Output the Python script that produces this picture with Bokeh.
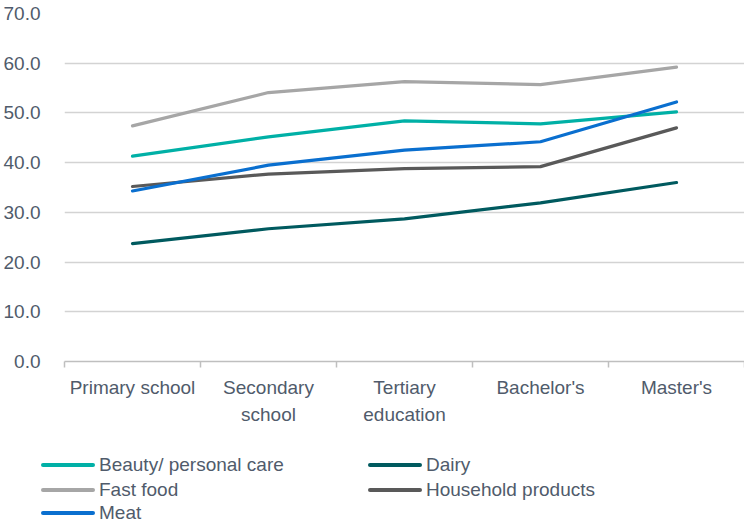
from bokeh.plotting import figure
from bokeh.layouts import column
from bokeh.models import (Range1d, FixedTicker, PrintfTickFormatter, ColumnDataSource, Div)
from bokeh.embed import file_html
from bokeh.resources import INLINE

categories = ["Primary school", "Secondary\nschool", "Tertiary\neducation", "Bachelor's", "Master's"]
beauty = [41.3, 45.2, 48.4, 47.8, 50.2]
dairy = [23.7, 26.7, 28.7, 31.9, 36.0]
fast_food = [47.4, 54.1, 56.3, 55.7, 59.2]
household = [35.2, 37.7, 38.8, 39.2, 47.0]
meat = [34.3, 39.5, 42.5, 44.2, 52.2]
y_ticks = [0, 10, 20, 30, 40, 50, 60, 70]

series = [
    ("Beauty/ personal care", beauty, "#00B0A6"),
    ("Dairy", dairy, "#005A5F"),
    ("Fast food", fast_food, "#A6A6A6"),
    ("Household products", household, "#595959"),
    ("Meat", meat, "#0A6FCF"),
]
# legend layout: column-major, 3 rows
legend_order = ["Beauty/ personal care", "Fast food", "Meat", "Dairy", "Household products"]

FONT = "Liberation Sans"
TXT = "#505B6B"
W = 744
H_MAIN = 440
H_LEG = 82

x_pos = [i + 0.5 for i in range(len(categories))]

p = figure(width=W, height=H_MAIN, output_backend="svg", toolbar_location=None,
           x_range=Range1d(0, len(categories)), y_range=Range1d(0, 70),
           min_border_left=63, min_border_right=0, min_border_top=13,
           min_border_bottom=H_MAIN - 361)
p.outline_line_color = None
p.background_fill_color = "white"
p.border_fill_color = "white"

for name, vals, color in series:
    src = ColumnDataSource(dict(x=x_pos, y=vals))
    p.line("x", "y", source=src, line_color=color, line_width=3.2, line_cap="round",
           line_join="round")

# axes
xa = p.xaxis[0]
xa.ticker = FixedTicker(ticks=x_pos, minor_ticks=list(range(len(categories) + 1)))
xa.major_label_overrides = {x: c for x, c in zip(x_pos, categories)}
xa.major_tick_line_color = None
xa.major_tick_out = 0
xa.major_tick_in = 0
xa.minor_tick_line_color = "#BFBFBF"
xa.minor_tick_line_width = 1.5
xa.minor_tick_out = 6
xa.minor_tick_in = 0
xa.axis_line_color = "#BFBFBF"
xa.axis_line_width = 1.5
xa.major_label_text_font = FONT
xa.major_label_text_font_size = "19px"
xa.major_label_text_color = TXT
xa.major_label_text_line_height = 1.3
xa.major_label_standoff = 9

ya = p.yaxis[0]
ya.ticker = FixedTicker(ticks=y_ticks)
ya.formatter = PrintfTickFormatter(format="%.1f")
ya.axis_line_color = None
ya.major_tick_line_color = None
ya.minor_tick_line_color = None
ya.major_label_text_font = FONT
ya.major_label_text_font_size = "19px"
ya.major_label_text_color = TXT
ya.major_label_standoff = 18

p.xgrid.grid_line_color = None
p.ygrid.grid_line_color = "#D3D3D3"
p.ygrid.grid_line_width = 1.5
p.ygrid.ticker = FixedTicker(ticks=y_ticks)

# HTML legend below the chart (real text), built from the series list
colors = {n: c for n, _, c in series}
col_left = [41, 368]
row_top = [15, 40, 63]
parts = []
for i, name in enumerate(legend_order):
    c, r = divmod(i, 3)
    parts.append(
        f'<div style="position:absolute;left:{col_left[c]}px;top:{row_top[r]}px;'
        f'height:20px;display:flex;align-items:center;white-space:nowrap;">'
        f'<span style="display:inline-block;width:54px;height:3.5px;border-radius:2px;'
        f'background:{colors[name]};margin-right:4px;"></span>'
        f'<span style="font-family:\'{FONT}\';font-size:19px;line-height:20px;color:{TXT};">{name}</span>'
        f'</div>'
    )
html = (f'<div style="position:relative;width:{W}px;height:{H_LEG}px;overflow:visible;">'
        + "".join(parts) + '</div>')
leg = Div(text=html, width=W, height=H_LEG, margin=(0, 0, 0, 0))

layout = column(p, leg, spacing=0)
open("out.html", "w").write(file_html(layout, INLINE))
